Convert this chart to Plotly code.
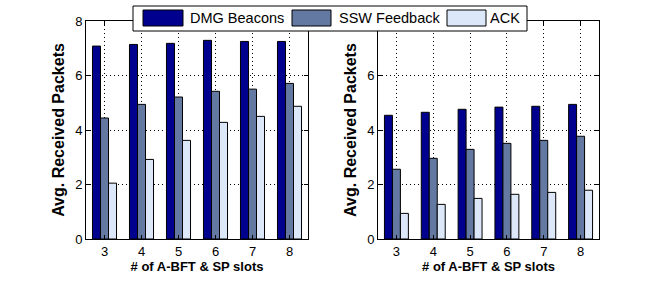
import plotly.graph_objects as go

categories = ["3", "4", "5", "6", "7", "8"]
series_names = ["DMG Beacons", "SSW Feedback", "ACK"]
left_beacons = [7.08, 7.14, 7.18, 7.29, 7.25, 7.25]
left_ssw = [4.44, 4.94, 5.21, 5.42, 5.50, 5.71]
left_ack = [2.05, 2.92, 3.62, 4.28, 4.50, 4.87]
right_beacons = [4.54, 4.65, 4.76, 4.84, 4.87, 4.94]
right_ssw = [2.56, 2.96, 3.29, 3.51, 3.62, 3.77]
right_ack = [0.94, 1.27, 1.49, 1.64, 1.71, 1.79]
y_ticks_left = [0, 2, 4, 6, 8]
y_ticks_right = [0, 2, 4, 6]
colors = ["#00008F", "#6379A1", "#DCE8FA"]

W, H = 662, 281
FONT = "Liberation Sans, Arial, sans-serif"

fig = go.Figure()
for vals, name, col in zip([left_beacons, left_ssw, left_ack], series_names, colors):
    fig.add_trace(go.Bar(x=categories, y=vals, name=name, marker=dict(color=col, line=dict(color="black", width=1)),
                         xaxis="x", yaxis="y", showlegend=False))
for vals, name, col in zip([right_beacons, right_ssw, right_ack], series_names, colors):
    fig.add_trace(go.Bar(x=categories, y=vals, name=name, marker=dict(color=col, line=dict(color="black", width=1)),
                         xaxis="x2", yaxis="y2", showlegend=False))

def px_x(p):
    return p / W

def px_y(p):
    return 1 - p / H

axis_common = dict(showline=True, linecolor="black", linewidth=1, mirror="ticks", ticks="inside", ticklen=4,
                   tickcolor="black", showgrid=True, gridcolor="black", griddash="1px,3px", gridwidth=1,
                   zeroline=False, automargin=False, tickfont=dict(family=FONT, size=13, color="black"))

xt = dict(text="# of A-BFT & SP slots", font=dict(family=FONT, size=13, color="black", weight="bold"), standoff=4)
yt = dict(text="Avg. Received Packets", font=dict(family=FONT, size=16, color="black", weight="bold"), standoff=6)

fig.update_layout(
    template="none",
    width=W, height=H, margin=dict(l=0, r=0, t=0, b=0, pad=0),
    paper_bgcolor="white", plot_bgcolor="white",
    barmode="group", bargap=0.35, bargroupgap=0,
    font=dict(family=FONT, color="black"),
    xaxis=dict(domain=[px_x(86), px_x(308)], anchor="y", type="category", range=[-0.5, 5.5], title=xt, **axis_common),
    yaxis=dict(domain=[px_y(239), px_y(21)], anchor="x", range=[0, 8], tickvals=y_ticks_left, title=yt, **axis_common),
    xaxis2=dict(domain=[px_x(378), px_x(599)], anchor="y2", type="category", range=[-0.5, 5.5], title=xt, **axis_common),
    yaxis2=dict(domain=[px_y(239), px_y(21)], anchor="x2", range=[0, 8], tickvals=y_ticks_right, title=yt, **axis_common),
)

# manual legend box
shapes = [dict(type="rect", xref="paper", yref="paper", x0=px_x(133), x1=px_x(527), y0=px_y(31), y1=px_y(6),
               fillcolor="white", line=dict(color="black", width=1), layer="above")]
swatches = [(143, 183), (292, 331), (447, 486)]
text_x = [188, 337, 488]
annotations = []
for (a, b), tx, name, col in zip(swatches, text_x, series_names, colors):
    shapes.append(dict(type="rect", xref="paper", yref="paper", x0=px_x(a), x1=px_x(b), y0=px_y(26), y1=px_y(10),
                       fillcolor=col, line=dict(color="black", width=1), layer="above"))
    annotations.append(dict(text=name, xref="paper", yref="paper", x=px_x(tx), y=px_y(18.5), xanchor="left",
                            yanchor="middle", showarrow=False, font=dict(family=FONT, size=14.5, color="black")))
fig.update_layout(shapes=shapes, annotations=annotations)

fig.write_html("out.html", config={"displayModeBar": False},
               post_script="document.body.style.margin='0';")
